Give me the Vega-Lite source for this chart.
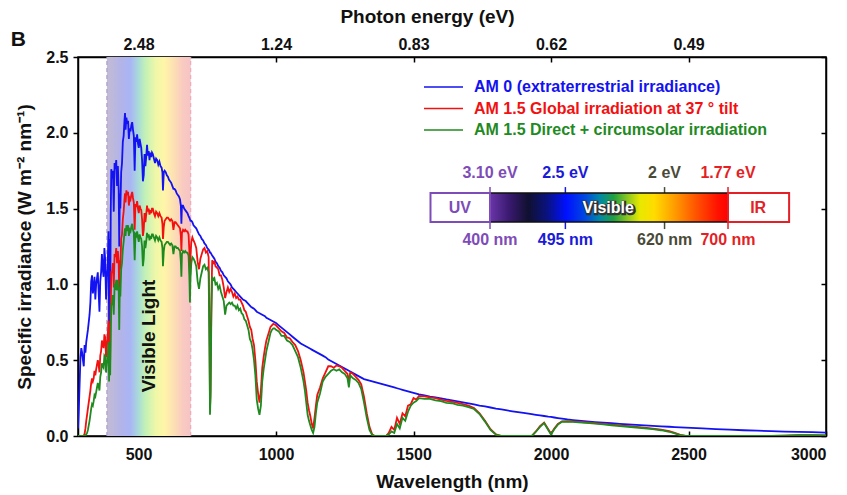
{
  "$schema": "https://vega.github.io/schema/vega-lite/v6.json",
  "width": 748,
  "height": 379,
  "autosize": {"type": "none"},
  "padding": {"left": 78, "top": 57, "right": 21, "bottom": 59},
  "background": "white",
  "config": {
    "font": "Liberation Sans",
    "view": {"stroke": "#000", "strokeWidth": 1.5},
    "axis": {"grid": false, "domainColor": "#000", "domainWidth": 1.5, "tickColor": "#000", "tickWidth": 1.5,
      "labelFont": "Liberation Sans", "labelFontSize": 16, "labelFontWeight": "bold", "labelColor": "#111",
      "titleFont": "Liberation Sans", "titleFontSize": 19, "titleFontWeight": "bold", "titleColor": "#111"}
  },
  "layer": [
    {
      "data": {"values": [
        {"nm":280,"am0":0.05,"global":0,"direct":0},
        {"nm":283,"am0":0.18,"global":0,"direct":0},
        {"nm":286,"am0":0.35,"global":0,"direct":0},
        {"nm":289,"am0":0.52,"global":0,"direct":0},
        {"nm":292,"am0":0.58,"global":0,"direct":0},
        {"nm":295,"am0":0.55,"global":0,"direct":0},
        {"nm":298,"am0":0.5,"global":0,"direct":0},
        {"nm":301,"am0":0.46,"global":0.003,"direct":0},
        {"nm":304,"am0":0.6,"global":0.015,"direct":0},
        {"nm":307,"am0":0.55,"global":0.05,"direct":0.005},
        {"nm":310,"am0":0.62,"global":0.1,"direct":0.01},
        {"nm":313,"am0":0.66,"global":0.14,"direct":0.02},
        {"nm":316,"am0":0.7,"global":0.18,"direct":0.04},
        {"nm":319,"am0":0.75,"global":0.22,"direct":0.07},
        {"nm":322,"am0":0.8,"global":0.26,"direct":0.1},
        {"nm":325,"am0":0.88,"global":0.3,"direct":0.14},
        {"nm":328,"am0":1.02,"global":0.35,"direct":0.18},
        {"nm":331,"am0":1.06,"global":0.38,"direct":0.21},
        {"nm":334,"am0":0.94,"global":0.36,"direct":0.2},
        {"nm":337,"am0":0.98,"global":0.38,"direct":0.23},
        {"nm":340,"am0":1.05,"global":0.43,"direct":0.27},
        {"nm":343,"am0":0.9,"global":0.4,"direct":0.26},
        {"nm":346,"am0":1.0,"global":0.44,"direct":0.29},
        {"nm":349,"am0":1.04,"global":0.47,"direct":0.32},
        {"nm":352,"am0":1.08,"global":0.5,"direct":0.35},
        {"nm":355,"am0":0.95,"global":0.47,"direct":0.33},
        {"nm":358,"am0":0.82,"global":0.42,"direct":0.3},
        {"nm":361,"am0":1.02,"global":0.53,"direct":0.39},
        {"nm":364,"am0":1.08,"global":0.56,"direct":0.42},
        {"nm":367,"am0":1.2,"global":0.63,"direct":0.48},
        {"nm":370,"am0":1.1,"global":0.6,"direct":0.46},
        {"nm":373,"am0":1.05,"global":0.58,"direct":0.45},
        {"nm":376,"am0":1.24,"global":0.67,"direct":0.53},
        {"nm":379,"am0":1.16,"global":0.65,"direct":0.52},
        {"nm":382,"am0":0.9,"global":0.52,"direct":0.42},
        {"nm":385,"am0":1.05,"global":0.6,"direct":0.48},
        {"nm":388,"am0":1.12,"global":0.66,"direct":0.53},
        {"nm":391,"am0":1.35,"global":0.76,"direct":0.62},
        {"nm":393,"am0":0.72,"global":0.45,"direct":0.36},
        {"nm":395,"am0":1.3,"global":0.74,"direct":0.6},
        {"nm":397,"am0":0.8,"global":0.5,"direct":0.4},
        {"nm":399,"am0":1.45,"global":0.85,"direct":0.68},
        {"nm":401,"am0":1.76,"global":1.08,"direct":0.86},
        {"nm":404,"am0":1.7,"global":1.08,"direct":0.88},
        {"nm":407,"am0":1.75,"global":1.14,"direct":0.93},
        {"nm":410,"am0":1.48,"global":0.98,"direct":0.8},
        {"nm":413,"am0":1.8,"global":1.2,"direct":0.99},
        {"nm":416,"am0":1.76,"global":1.18,"direct":0.98},
        {"nm":419,"am0":1.82,"global":1.24,"direct":1.03},
        {"nm":422,"am0":1.65,"global":1.14,"direct":0.96},
        {"nm":425,"am0":1.78,"global":1.22,"direct":1.03},
        {"nm":428,"am0":1.62,"global":1.14,"direct":0.96},
        {"nm":430,"am0":1.25,"global":0.92,"direct":0.7},
        {"nm":432,"am0":1.6,"global":1.16,"direct":0.98},
        {"nm":434,"am0":1.5,"global":1.1,"direct":0.92},
        {"nm":437,"am0":1.74,"global":1.3,"direct":1.1},
        {"nm":440,"am0":1.8,"global":1.33,"direct":1.14},
        {"nm":443,"am0":1.94,"global":1.43,"direct":1.23},
        {"nm":446,"am0":1.98,"global":1.48,"direct":1.28},
        {"nm":449,"am0":2.08,"global":1.56,"direct":1.34},
        {"nm":451,"am0":2.13,"global":1.6,"direct":1.37},
        {"nm":453,"am0":2.02,"global":1.54,"direct":1.32},
        {"nm":456,"am0":2.1,"global":1.62,"direct":1.39},
        {"nm":459,"am0":2.06,"global":1.59,"direct":1.37},
        {"nm":462,"am0":2.08,"global":1.61,"direct":1.39},
        {"nm":465,"am0":1.96,"global":1.52,"direct":1.32},
        {"nm":468,"am0":2.03,"global":1.57,"direct":1.36},
        {"nm":471,"am0":2.01,"global":1.56,"direct":1.35},
        {"nm":474,"am0":2.05,"global":1.59,"direct":1.38},
        {"nm":477,"am0":2.07,"global":1.61,"direct":1.4},
        {"nm":480,"am0":2.02,"global":1.57,"direct":1.36},
        {"nm":483,"am0":1.98,"global":1.54,"direct":1.34},
        {"nm":486,"am0":1.75,"global":1.36,"direct":1.16},
        {"nm":489,"am0":1.97,"global":1.53,"direct":1.33},
        {"nm":492,"am0":1.94,"global":1.51,"direct":1.32},
        {"nm":495,"am0":1.99,"global":1.55,"direct":1.35},
        {"nm":498,"am0":1.93,"global":1.5,"direct":1.31},
        {"nm":501,"am0":1.9,"global":1.47,"direct":1.28},
        {"nm":504,"am0":1.96,"global":1.52,"direct":1.33},
        {"nm":507,"am0":1.93,"global":1.5,"direct":1.31},
        {"nm":510,"am0":1.9,"global":1.49,"direct":1.3},
        {"nm":513,"am0":1.82,"global":1.43,"direct":1.25},
        {"nm":516,"am0":1.68,"global":1.32,"direct":1.12},
        {"nm":519,"am0":1.72,"global":1.36,"direct":1.17},
        {"nm":522,"am0":1.86,"global":1.47,"direct":1.29},
        {"nm":525,"am0":1.78,"global":1.41,"direct":1.24},
        {"nm":528,"am0":1.84,"global":1.46,"direct":1.28},
        {"nm":531,"am0":1.92,"global":1.52,"direct":1.34},
        {"nm":534,"am0":1.85,"global":1.48,"direct":1.31},
        {"nm":537,"am0":1.88,"global":1.5,"direct":1.33},
        {"nm":540,"am0":1.82,"global":1.46,"direct":1.29},
        {"nm":543,"am0":1.87,"global":1.49,"direct":1.32},
        {"nm":546,"am0":1.84,"global":1.47,"direct":1.3},
        {"nm":549,"am0":1.87,"global":1.5,"direct":1.33},
        {"nm":552,"am0":1.86,"global":1.5,"direct":1.33},
        {"nm":556,"am0":1.83,"global":1.47,"direct":1.31},
        {"nm":560,"am0":1.8,"global":1.45,"direct":1.29},
        {"nm":564,"am0":1.83,"global":1.48,"direct":1.32},
        {"nm":568,"am0":1.82,"global":1.47,"direct":1.31},
        {"nm":572,"am0":1.79,"global":1.45,"direct":1.29},
        {"nm":576,"am0":1.81,"global":1.47,"direct":1.31},
        {"nm":580,"am0":1.78,"global":1.45,"direct":1.29},
        {"nm":584,"am0":1.77,"global":1.44,"direct":1.28},
        {"nm":587,"am0":1.74,"global":1.4,"direct":1.24},
        {"nm":589,"am0":1.62,"global":1.3,"direct":1.12},
        {"nm":592,"am0":1.74,"global":1.38,"direct":1.22},
        {"nm":595,"am0":1.75,"global":1.42,"direct":1.26},
        {"nm":599,"am0":1.74,"global":1.43,"direct":1.27},
        {"nm":603,"am0":1.72,"global":1.44,"direct":1.28},
        {"nm":607,"am0":1.71,"global":1.44,"direct":1.28},
        {"nm":611,"am0":1.69,"global":1.43,"direct":1.27},
        {"nm":615,"am0":1.68,"global":1.42,"direct":1.26},
        {"nm":619,"am0":1.67,"global":1.43,"direct":1.27},
        {"nm":623,"am0":1.65,"global":1.42,"direct":1.26},
        {"nm":627,"am0":1.63,"global":1.36,"direct":1.2},
        {"nm":631,"am0":1.63,"global":1.41,"direct":1.25},
        {"nm":635,"am0":1.62,"global":1.41,"direct":1.25},
        {"nm":639,"am0":1.6,"global":1.4,"direct":1.24},
        {"nm":643,"am0":1.59,"global":1.39,"direct":1.24},
        {"nm":647,"am0":1.58,"global":1.38,"direct":1.23},
        {"nm":651,"am0":1.56,"global":1.37,"direct":1.22},
        {"nm":654,"am0":1.52,"global":1.32,"direct":1.15},
        {"nm":656,"am0":1.4,"global":1.22,"direct":1.05},
        {"nm":658,"am0":1.52,"global":1.34,"direct":1.2},
        {"nm":662,"am0":1.52,"global":1.36,"direct":1.22},
        {"nm":666,"am0":1.5,"global":1.35,"direct":1.21},
        {"nm":670,"am0":1.49,"global":1.36,"direct":1.22},
        {"nm":674,"am0":1.48,"global":1.35,"direct":1.21},
        {"nm":678,"am0":1.47,"global":1.35,"direct":1.21},
        {"nm":682,"am0":1.45,"global":1.33,"direct":1.19},
        {"nm":685,"am0":1.44,"global":1.22,"direct":1.06},
        {"nm":687,"am0":1.43,"global":1.0,"direct":0.88},
        {"nm":689,"am0":1.42,"global":1.18,"direct":1.04},
        {"nm":692,"am0":1.42,"global":1.28,"direct":1.14},
        {"nm":696,"am0":1.41,"global":1.31,"direct":1.18},
        {"nm":700,"am0":1.39,"global":1.29,"direct":1.17},
        {"nm":705,"am0":1.38,"global":1.27,"direct":1.15},
        {"nm":710,"am0":1.37,"global":1.24,"direct":1.12},
        {"nm":715,"am0":1.35,"global":1.15,"direct":1.02},
        {"nm":720,"am0":1.33,"global":1.1,"direct":0.97},
        {"nm":725,"am0":1.32,"global":1.17,"direct":1.04},
        {"nm":730,"am0":1.3,"global":1.2,"direct":1.08},
        {"nm":735,"am0":1.29,"global":1.23,"direct":1.12},
        {"nm":740,"am0":1.27,"global":1.24,"direct":1.13},
        {"nm":745,"am0":1.26,"global":1.21,"direct":1.1},
        {"nm":750,"am0":1.24,"global":1.22,"direct":1.11},
        {"nm":755,"am0":1.23,"global":1.18,"direct":1.08},
        {"nm":758,"am0":1.22,"global":0.7,"direct":0.6},
        {"nm":760,"am0":1.21,"global":0.18,"direct":0.14},
        {"nm":762,"am0":1.21,"global":0.3,"direct":0.26},
        {"nm":765,"am0":1.2,"global":0.9,"direct":0.8},
        {"nm":768,"am0":1.19,"global":1.16,"direct":1.05},
        {"nm":772,"am0":1.18,"global":1.14,"direct":1.03},
        {"nm":776,"am0":1.17,"global":1.15,"direct":1.04},
        {"nm":780,"am0":1.15,"global":1.12,"direct":1.0},
        {"nm":785,"am0":1.14,"global":1.11,"direct":1.01},
        {"nm":790,"am0":1.12,"global":1.1,"direct":0.97},
        {"nm":795,"am0":1.11,"global":1.06,"direct":0.99},
        {"nm":800,"am0":1.09,"global":1.06,"direct":0.95},
        {"nm":805,"am0":1.08,"global":1.03,"direct":0.92},
        {"nm":810,"am0":1.06,"global":0.98,"direct":0.89},
        {"nm":815,"am0":1.05,"global":0.91,"direct":0.8},
        {"nm":820,"am0":1.04,"global":0.95,"direct":0.86},
        {"nm":825,"am0":1.02,"global":0.98,"direct":0.87},
        {"nm":830,"am0":1.01,"global":0.95,"direct":0.88},
        {"nm":835,"am0":1.0,"global":0.97,"direct":0.87},
        {"nm":840,"am0":0.98,"global":0.95,"direct":0.88},
        {"nm":845,"am0":0.97,"global":0.92,"direct":0.86},
        {"nm":850,"am0":0.96,"global":0.94,"direct":0.86},
        {"nm":855,"am0":0.95,"global":0.91,"direct":0.84},
        {"nm":860,"am0":0.94,"global":0.92,"direct":0.86},
        {"nm":865,"am0":0.93,"global":0.9,"direct":0.83},
        {"nm":870,"am0":0.92,"global":0.9,"direct":0.84},
        {"nm":875,"am0":0.91,"global":0.88,"direct":0.81},
        {"nm":880,"am0":0.9,"global":0.86,"direct":0.8},
        {"nm":885,"am0":0.895,"global":0.83,"direct":0.77},
        {"nm":890,"am0":0.89,"global":0.82,"direct":0.76},
        {"nm":895,"am0":0.88,"global":0.79,"direct":0.73},
        {"nm":900,"am0":0.87,"global":0.76,"direct":0.7},
        {"nm":905,"am0":0.86,"global":0.72,"direct":0.64},
        {"nm":910,"am0":0.85,"global":0.7,"direct":0.62},
        {"nm":915,"am0":0.845,"global":0.64,"direct":0.57},
        {"nm":920,"am0":0.84,"global":0.6,"direct":0.5},
        {"nm":925,"am0":0.83,"global":0.5,"direct":0.4},
        {"nm":930,"am0":0.82,"global":0.36,"direct":0.24},
        {"nm":935,"am0":0.815,"global":0.28,"direct":0.18},
        {"nm":940,"am0":0.81,"global":0.22,"direct":0.14},
        {"nm":945,"am0":0.805,"global":0.3,"direct":0.2},
        {"nm":950,"am0":0.8,"global":0.45,"direct":0.36},
        {"nm":955,"am0":0.795,"global":0.52,"direct":0.44},
        {"nm":960,"am0":0.79,"global":0.58,"direct":0.5},
        {"nm":965,"am0":0.78,"global":0.63,"direct":0.56},
        {"nm":970,"am0":0.775,"global":0.66,"direct":0.6},
        {"nm":975,"am0":0.77,"global":0.69,"direct":0.64},
        {"nm":980,"am0":0.765,"global":0.72,"direct":0.68},
        {"nm":985,"am0":0.76,"global":0.73,"direct":0.7},
        {"nm":990,"am0":0.755,"global":0.74,"direct":0.71},
        {"nm":995,"am0":0.75,"global":0.735,"direct":0.71},
        {"nm":1000,"am0":0.745,"global":0.73,"direct":0.7},
        {"nm":1010,"am0":0.73,"global":0.71,"direct":0.69},
        {"nm":1020,"am0":0.715,"global":0.69,"direct":0.66},
        {"nm":1030,"am0":0.7,"global":0.68,"direct":0.66},
        {"nm":1040,"am0":0.685,"global":0.65,"direct":0.63},
        {"nm":1050,"am0":0.67,"global":0.645,"direct":0.62},
        {"nm":1060,"am0":0.655,"global":0.62,"direct":0.6},
        {"nm":1070,"am0":0.64,"global":0.6,"direct":0.56},
        {"nm":1080,"am0":0.625,"global":0.56,"direct":0.52},
        {"nm":1090,"am0":0.61,"global":0.5,"direct":0.45},
        {"nm":1100,"am0":0.6,"global":0.42,"direct":0.36},
        {"nm":1105,"am0":0.595,"global":0.36,"direct":0.3},
        {"nm":1110,"am0":0.59,"global":0.3,"direct":0.22},
        {"nm":1115,"am0":0.585,"global":0.22,"direct":0.14},
        {"nm":1120,"am0":0.58,"global":0.17,"direct":0.1},
        {"nm":1125,"am0":0.575,"global":0.13,"direct":0.07},
        {"nm":1130,"am0":0.57,"global":0.08,"direct":0.04},
        {"nm":1135,"am0":0.565,"global":0.05,"direct":0.02},
        {"nm":1140,"am0":0.56,"global":0.12,"direct":0.06},
        {"nm":1145,"am0":0.555,"global":0.2,"direct":0.15},
        {"nm":1150,"am0":0.55,"global":0.27,"direct":0.22},
        {"nm":1160,"am0":0.54,"global":0.32,"direct":0.28},
        {"nm":1170,"am0":0.53,"global":0.38,"direct":0.36},
        {"nm":1180,"am0":0.52,"global":0.42,"direct":0.39},
        {"nm":1190,"am0":0.505,"global":0.46,"direct":0.41},
        {"nm":1200,"am0":0.495,"global":0.46,"direct":0.43},
        {"nm":1210,"am0":0.485,"global":0.45,"direct":0.44},
        {"nm":1220,"am0":0.475,"global":0.465,"direct":0.43},
        {"nm":1230,"am0":0.465,"global":0.46,"direct":0.44},
        {"nm":1240,"am0":0.455,"global":0.45,"direct":0.42},
        {"nm":1250,"am0":0.445,"global":0.43,"direct":0.41},
        {"nm":1260,"am0":0.435,"global":0.41,"direct":0.38},
        {"nm":1265,"am0":0.43,"global":0.36,"direct":0.32},
        {"nm":1270,"am0":0.425,"global":0.42,"direct":0.4},
        {"nm":1280,"am0":0.415,"global":0.41,"direct":0.38},
        {"nm":1290,"am0":0.405,"global":0.39,"direct":0.37},
        {"nm":1300,"am0":0.395,"global":0.37,"direct":0.35},
        {"nm":1310,"am0":0.385,"global":0.34,"direct":0.31},
        {"nm":1320,"am0":0.375,"global":0.26,"direct":0.22},
        {"nm":1330,"am0":0.37,"global":0.15,"direct":0.12},
        {"nm":1340,"am0":0.365,"global":0.06,"direct":0.04},
        {"nm":1350,"am0":0.36,"global":0.01,"direct":0.005},
        {"nm":1360,"am0":0.355,"global":0,"direct":0},
        {"nm":1380,"am0":0.345,"global":0,"direct":0},
        {"nm":1400,"am0":0.335,"global":0,"direct":0},
        {"nm":1410,"am0":0.33,"global":0.02,"direct":0.01},
        {"nm":1420,"am0":0.325,"global":0.06,"direct":0.03},
        {"nm":1430,"am0":0.32,"global":0.04,"direct":0.02},
        {"nm":1440,"am0":0.315,"global":0.12,"direct":0.08},
        {"nm":1450,"am0":0.31,"global":0.08,"direct":0.05},
        {"nm":1460,"am0":0.305,"global":0.15,"direct":0.12},
        {"nm":1470,"am0":0.3,"global":0.13,"direct":0.1},
        {"nm":1480,"am0":0.295,"global":0.2,"direct":0.16},
        {"nm":1490,"am0":0.29,"global":0.21,"direct":0.2},
        {"nm":1500,"am0":0.285,"global":0.25,"direct":0.22},
        {"nm":1510,"am0":0.28,"global":0.24,"direct":0.23},
        {"nm":1520,"am0":0.275,"global":0.265,"direct":0.25},
        {"nm":1540,"am0":0.268,"global":0.262,"direct":0.245},
        {"nm":1560,"am0":0.26,"global":0.255,"direct":0.245},
        {"nm":1580,"am0":0.255,"global":0.25,"direct":0.235},
        {"nm":1600,"am0":0.248,"global":0.24,"direct":0.23},
        {"nm":1620,"am0":0.241,"global":0.232,"direct":0.218},
        {"nm":1640,"am0":0.235,"global":0.226,"direct":0.216},
        {"nm":1660,"am0":0.229,"global":0.219,"direct":0.206},
        {"nm":1680,"am0":0.222,"global":0.21,"direct":0.2},
        {"nm":1700,"am0":0.215,"global":0.2,"direct":0.19},
        {"nm":1720,"am0":0.208,"global":0.185,"direct":0.178},
        {"nm":1740,"am0":0.201,"global":0.15,"direct":0.145},
        {"nm":1760,"am0":0.195,"global":0.1,"direct":0.095},
        {"nm":1780,"am0":0.188,"global":0.045,"direct":0.04},
        {"nm":1800,"am0":0.181,"global":0.01,"direct":0.008},
        {"nm":1820,"am0":0.175,"global":0,"direct":0},
        {"nm":1860,"am0":0.163,"global":0,"direct":0},
        {"nm":1900,"am0":0.152,"global":0,"direct":0},
        {"nm":1930,"am0":0.144,"global":0,"direct":0},
        {"nm":1945,"am0":0.14,"global":0.03,"direct":0.028},
        {"nm":1960,"am0":0.136,"global":0.065,"direct":0.06},
        {"nm":1975,"am0":0.132,"global":0.088,"direct":0.085},
        {"nm":1990,"am0":0.128,"global":0.045,"direct":0.04},
        {"nm":2000,"am0":0.126,"global":0.015,"direct":0.01},
        {"nm":2012,"am0":0.122,"global":0.05,"direct":0.045},
        {"nm":2025,"am0":0.118,"global":0.08,"direct":0.075},
        {"nm":2040,"am0":0.114,"global":0.097,"direct":0.094},
        {"nm":2060,"am0":0.109,"global":0.098,"direct":0.095},
        {"nm":2080,"am0":0.105,"global":0.096,"direct":0.093},
        {"nm":2100,"am0":0.101,"global":0.093,"direct":0.09},
        {"nm":2130,"am0":0.096,"global":0.089,"direct":0.086},
        {"nm":2160,"am0":0.092,"global":0.085,"direct":0.081},
        {"nm":2190,"am0":0.088,"global":0.08,"direct":0.076},
        {"nm":2220,"am0":0.084,"global":0.075,"direct":0.071},
        {"nm":2250,"am0":0.08,"global":0.07,"direct":0.066},
        {"nm":2280,"am0":0.076,"global":0.065,"direct":0.061},
        {"nm":2310,"am0":0.073,"global":0.06,"direct":0.056},
        {"nm":2340,"am0":0.07,"global":0.055,"direct":0.051},
        {"nm":2370,"am0":0.067,"global":0.049,"direct":0.045},
        {"nm":2400,"am0":0.064,"global":0.042,"direct":0.038},
        {"nm":2430,"am0":0.061,"global":0.032,"direct":0.028},
        {"nm":2450,"am0":0.059,"global":0.02,"direct":0.017},
        {"nm":2470,"am0":0.057,"global":0.008,"direct":0.006},
        {"nm":2490,"am0":0.055,"global":0.001,"direct":0},
        {"nm":2550,"am0":0.05,"global":0,"direct":0},
        {"nm":2600,"am0":0.046,"global":0,"direct":0},
        {"nm":2650,"am0":0.042,"global":0,"direct":0},
        {"nm":2700,"am0":0.038,"global":0,"direct":0},
        {"nm":2750,"am0":0.035,"global":0,"direct":0},
        {"nm":2800,"am0":0.032,"global":0,"direct":0},
        {"nm":2850,"am0":0.029,"global":0.002,"direct":0.002},
        {"nm":2900,"am0":0.027,"global":0.005,"direct":0.005},
        {"nm":2950,"am0":0.025,"global":0.006,"direct":0.006},
        {"nm":3000,"am0":0.022,"global":0.004,"direct":0.004}
      ]},
      "layer": [
        {
          "data": {"values": [{}]},
          "mark": {"type": "rect", "stroke": null, "fill": {"gradient": "linear", "x1": 0, "y1": 0, "x2": 1, "y2": 0, "stops": [
            {"offset": 0, "color": "#c4bcd4"},
            {"offset": 0.15, "color": "#b4b4e6"},
            {"offset": 0.28, "color": "#a9b5f5"},
            {"offset": 0.38, "color": "#a9dcd8"},
            {"offset": 0.45, "color": "#bff0b8"},
            {"offset": 0.58, "color": "#eef8a8"},
            {"offset": 0.68, "color": "#fff5a8"},
            {"offset": 0.8, "color": "#fde0b4"},
            {"offset": 0.9, "color": "#f9cbc0"},
            {"offset": 1, "color": "#f6c3c6"}]}},
          "encoding": {
            "x": {"datum": 385, "type": "quantitative", "scale": {"domain": [280, 3000], "nice": false, "zero": false}, "axis": null},
            "x2": {"datum": 690},
            "y": {"datum": 0, "type": "quantitative", "scale": {"domain": [0, 2.5], "nice": false}, "axis": null},
            "y2": {"datum": 2.5}
          }
        },
        {
          "data": {"values": [{"edge": 385, "side": "left"}, {"edge": 690, "side": "right"}]},
          "mark": {"type": "rule", "strokeDash": [4, 3], "strokeWidth": 1},
          "encoding": {
            "x": {"field": "edge", "type": "quantitative", "scale": {"domain": [280, 3000], "nice": false, "zero": false}, "axis": null},
            "y": {"datum": 0, "type": "quantitative", "scale": {"domain": [0, 2.5], "nice": false}, "axis": null},
            "y2": {"datum": 2.5},
            "stroke": {"field": "side", "type": "nominal", "scale": {"domain": ["left", "right"], "range": ["#a494c4", "#e6a2b4"]}, "legend": null}
          }
        },
        {
          "data": {"values": [{}]},
          "mark": {"type": "text", "text": "Visible Light", "angle": 270, "fontSize": 19, "fontWeight": "bold", "font": "Liberation Sans", "color": "#111", "align": "center", "baseline": "middle"},
          "encoding": {
            "x": {"datum": 537, "type": "quantitative", "scale": {"domain": [280, 3000], "nice": false, "zero": false}, "axis": null},
            "y": {"datum": 0.66, "type": "quantitative", "scale": {"domain": [0, 2.5], "nice": false}, "axis": null}
          }
        },
        {
          "transform": [{"fold": ["am0", "global", "direct"], "as": ["series", "irr"]}],
          "mark": {"type": "line", "strokeWidth": 1.8, "clip": true},
          "encoding": {
            "x": {"field": "nm", "type": "quantitative", "scale": {"domain": [280, 3000], "nice": false, "zero": false},
              "axis": {"orient": "bottom", "values": [500, 1000, 1500, 2000, 2500, 3000], "format": "d", "tickSize": -5, "labelPadding": 15,
                "title": "Wavelength (nm)", "titleX": 374, "titleY": 45, "titleBaseline": "middle", "titleAlign": "center"}},
            "y": {"field": "irr", "type": "quantitative", "scale": {"domain": [0, 2.5], "nice": false},
              "axis": {"orient": "left", "values": [0, 0.5, 1, 1.5, 2, 2.5], "format": ".1f", "tickSize": 5, "labelPadding": 5,
                "title": "Specific irradiance (W m⁻² nm⁻¹)", "titleAngle": -90, "titleX": -54, "titleY": 189.5, "titleBaseline": "middle", "titleAlign": "center"}},
            "color": {"field": "series", "type": "nominal", "scale": {"domain": ["am0", "global", "direct"], "range": ["#1212f2", "#f21010", "#1f8a1f"]},
              "legend": {"orient": "none", "legendX": 345, "legendY": 20, "title": null, "symbolType": "stroke", "symbolSize": 1521, "symbolStrokeWidth": 1.6,
                "clipHeight": 20, "rowPadding": 1.5, "labelOffset": 10, "labelFontSize": 16, "labelFontWeight": "bold", "labelFont": "Liberation Sans", "padding": 0, "labelLimit": 400,
                "labelExpr": "datum.label == 'am0' ? 'AM 0 (extraterrestrial irradiance)' : datum.label == 'global' ? 'AM 1.5 Global irradiation at 37 ° tilt' : 'AM 1.5 Direct + circumsolar irradiation'",
                "encode": {"labels": {"update": {"fill": {"scale": "color", "field": "value"}}}}}}
          }
        },
        {
          "data": {"values": [{}]},
          "mark": {"type": "point", "opacity": 0},
          "encoding": {
            "x": {"datum": 500, "type": "quantitative", "scale": {"domain": [280, 3000], "nice": false, "zero": false},
              "axis": {"orient": "top", "values": [500, 1000, 1500, 2000, 2500], "tickSize": -5, "labelPadding": 10,
                "labelExpr": "datum.value == 500 ? '2.48' : datum.value == 1000 ? '1.24' : datum.value == 1500 ? '0.83' : datum.value == 2000 ? '0.62' : '0.49'",
                "title": "Photon energy (eV)", "titleX": 349, "titleY": -41, "titleBaseline": "middle", "titleAlign": "center"}},
            "y": {"datum": 1, "type": "quantitative", "scale": {"domain": [0, 2.5], "nice": false},
              "axis": {"orient": "right", "values": [0, 0.5, 1, 1.5, 2, 2.5], "labels": false, "tickSize": -5, "title": null}}
          }
        },
        {
          "data": {"values": [{}]},
          "mark": {"type": "text", "text": "B", "fontSize": 21, "fontWeight": "bold", "font": "Liberation Sans", "color": "#111", "align": "center", "baseline": "middle"},
          "encoding": {
            "x": {"datum": 63, "type": "quantitative", "scale": {"domain": [280, 3000], "nice": false, "zero": false}, "axis": null},
            "y": {"datum": 2.61, "type": "quantitative", "scale": {"domain": [0, 2.5], "nice": false}, "axis": null}
          }
        }
      ],
      "resolve": {"axis": {"x": "independent", "y": "independent"}}
    },
    {
      "data": {"values": [
        {"nm": 400, "ev": "3.10 eV", "wl": "400 nm", "tone": "violet"},
        {"nm": 495, "ev": "2.5 eV", "wl": "495 nm", "tone": "blue"},
        {"nm": 620, "ev": "2 eV", "wl": "620 nm", "tone": "olive"},
        {"nm": 700, "ev": "1.77 eV", "wl": "700 nm", "tone": "red"}
      ]},
      "layer": [
        {
          "mark": {"type": "rule", "strokeWidth": 1.5},
          "encoding": {
            "x": {"field": "nm", "type": "quantitative", "scale": {"domain": [-119.3, 823.5], "nice": false, "zero": false}, "axis": null},
            "y": {"datum": 1.365, "type": "quantitative", "scale": {"domain": [0, 2.5], "nice": false}, "axis": null},
            "y2": {"datum": 1.642},
            "stroke": {"field": "tone", "type": "nominal", "scale": {"domain": ["violet", "blue", "olive", "red"], "range": ["#7e4cb8", "#1a1ad8", "#4a4a38", "#e41f26"]}, "legend": null}
          }
        },
        {
          "data": {"values": [{}]},
          "mark": {"type": "rect", "stroke": "#111", "strokeWidth": 1.5, "fill": {"gradient": "linear", "x1": 0, "y1": 0, "x2": 1, "y2": 0, "stops": [
            {"offset": 0, "color": "#6a35a8"},
            {"offset": 0.08, "color": "#3a1a70"},
            {"offset": 0.16, "color": "#101030"},
            {"offset": 0.24, "color": "#0a1280"},
            {"offset": 0.32, "color": "#0010ff"},
            {"offset": 0.4, "color": "#0048e0"},
            {"offset": 0.46, "color": "#0088a8"},
            {"offset": 0.52, "color": "#20a040"},
            {"offset": 0.58, "color": "#90c820"},
            {"offset": 0.63, "color": "#e8e800"},
            {"offset": 0.69, "color": "#ffdc00"},
            {"offset": 0.77, "color": "#ffa000"},
            {"offset": 0.87, "color": "#ff5000"},
            {"offset": 0.96, "color": "#ff1000"},
            {"offset": 1, "color": "#ff0000"}]}},
          "encoding": {
            "x": {"datum": 400, "type": "quantitative", "scale": {"domain": [-119.3, 823.5], "nice": false, "zero": false}, "axis": null},
            "x2": {"datum": 700},
            "y": {"datum": 1.412, "type": "quantitative", "scale": {"domain": [0, 2.5], "nice": false}, "axis": null},
            "y2": {"datum": 1.603}
          }
        },
        {
          "data": {"values": [{"start": 325, "end": 400, "tone": "violet"}, {"start": 700, "end": 777, "tone": "red"}]},
          "mark": {"type": "rect", "fill": "white", "strokeWidth": 2},
          "encoding": {
            "x": {"field": "start", "type": "quantitative", "scale": {"domain": [-119.3, 823.5], "nice": false, "zero": false}, "axis": null},
            "x2": {"field": "end"},
            "y": {"datum": 1.412, "type": "quantitative", "scale": {"domain": [0, 2.5], "nice": false}, "axis": null},
            "y2": {"datum": 1.603},
            "stroke": {"field": "tone", "type": "nominal", "scale": {"domain": ["violet", "blue", "olive", "red"], "range": ["#7e4cb8", "#1a1ad8", "#4a4a38", "#e41f26"]}, "legend": null}
          }
        },
        {
          "mark": {"type": "text", "fontSize": 16, "fontWeight": "bold", "font": "Liberation Sans", "align": "center", "baseline": "middle"},
          "encoding": {
            "x": {"field": "nm", "type": "quantitative", "scale": {"domain": [-119.3, 823.5], "nice": false, "zero": false}, "axis": null},
            "y": {"datum": 1.735, "type": "quantitative", "scale": {"domain": [0, 2.5], "nice": false}, "axis": null},
            "text": {"field": "ev"},
            "fill": {"field": "tone", "type": "nominal", "scale": {"domain": ["violet", "blue", "olive", "red"], "range": ["#7e4cb8", "#1a1ad8", "#4a4a38", "#e41f26"]}, "legend": null}
          }
        },
        {
          "mark": {"type": "text", "fontSize": 16, "fontWeight": "bold", "font": "Liberation Sans", "align": "center", "baseline": "middle"},
          "encoding": {
            "x": {"field": "nm", "type": "quantitative", "scale": {"domain": [-119.3, 823.5], "nice": false, "zero": false}, "axis": null},
            "y": {"datum": 1.293, "type": "quantitative", "scale": {"domain": [0, 2.5], "nice": false}, "axis": null},
            "text": {"field": "wl"},
            "fill": {"field": "tone", "type": "nominal", "scale": {"domain": ["violet", "blue", "olive", "red"], "range": ["#7e4cb8", "#1a1ad8", "#4a4a38", "#e41f26"]}, "legend": null}
          }
        },
        {
          "data": {"values": [{}]},
          "mark": {"type": "text", "text": "UV", "fontSize": 16, "fontWeight": "bold", "font": "Liberation Sans", "align": "center", "baseline": "middle", "color": "#7e4cb8"},
          "encoding": {
            "x": {"datum": 362, "type": "quantitative", "scale": {"domain": [-119.3, 823.5], "nice": false, "zero": false}, "axis": null},
            "y": {"datum": 1.507, "type": "quantitative", "scale": {"domain": [0, 2.5], "nice": false}, "axis": null}
          }
        },
        {
          "data": {"values": [{}]},
          "mark": {"type": "text", "text": "IR", "fontSize": 16, "fontWeight": "bold", "font": "Liberation Sans", "align": "center", "baseline": "middle", "color": "#e41f26"},
          "encoding": {
            "x": {"datum": 738, "type": "quantitative", "scale": {"domain": [-119.3, 823.5], "nice": false, "zero": false}, "axis": null},
            "y": {"datum": 1.507, "type": "quantitative", "scale": {"domain": [0, 2.5], "nice": false}, "axis": null}
          }
        },
        {
          "data": {"values": [{}]},
          "mark": {"type": "text", "text": "Visible", "fontSize": 16, "fontWeight": "bold", "font": "Liberation Sans", "align": "center", "baseline": "middle", "fill": "#333", "stroke": "#333", "strokeWidth": 2.5, "dx": 1, "dy": 1},
          "encoding": {
            "x": {"datum": 549, "type": "quantitative", "scale": {"domain": [-119.3, 823.5], "nice": false, "zero": false}, "axis": null},
            "y": {"datum": 1.507, "type": "quantitative", "scale": {"domain": [0, 2.5], "nice": false}, "axis": null}
          }
        },
        {
          "data": {"values": [{}]},
          "mark": {"type": "text", "text": "Visible", "fontSize": 16, "fontWeight": "bold", "font": "Liberation Sans", "align": "center", "baseline": "middle", "fill": "white"},
          "encoding": {
            "x": {"datum": 549, "type": "quantitative", "scale": {"domain": [-119.3, 823.5], "nice": false, "zero": false}, "axis": null},
            "y": {"datum": 1.507, "type": "quantitative", "scale": {"domain": [0, 2.5], "nice": false}, "axis": null}
          }
        }
      ]
    }
  ],
  "resolve": {"scale": {"x": "independent", "y": "independent", "stroke": "independent"}}
}
